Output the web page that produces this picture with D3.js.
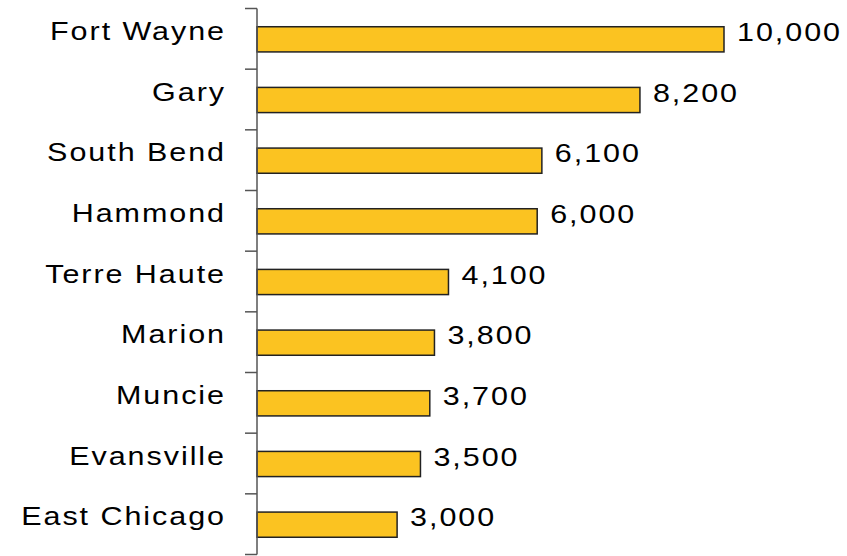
<!DOCTYPE html>
<html>
<head>
<meta charset="utf-8">
<script src="https://cdn.jsdelivr.net/npm/d3@7"></script>
<style>
  html, body { margin: 0; padding: 0; background: #fff; }
  svg { display: block; }
  text { font-family: "Liberation Sans", Arial, sans-serif; fill: #000; }
</style>
</head>
<body>
<div id="chart"></div>
<script>
const cities = ["Fort Wayne", "Gary", "South Bend", "Hammond", "Terre Haute",
                "Marion", "Muncie", "Evansville", "East Chicago"];
const values = [10000, 8200, 6100, 6000, 4100, 3800, 3700, 3500, 3000];

const width = 847;
const height = 556;
const axisX = 257;
const plotTop = 8.5;
const plotBottom = 554.5;
const stretch = 1.22;   // labels in the original look horizontally widened

const svg = d3.select("#chart").append("svg")
    .attr("width", width)
    .attr("height", height);

const x = d3.scaleLinear().domain([0, 10000]).range([axisX, axisX + 467]);

// band slots between ticks
const slot = d3.scaleBand().domain(cities).range([plotTop, plotBottom]).padding(0);
// bars inside each slot
const y = d3.scaleBand().domain(cities).range([plotTop, plotBottom])
    .paddingInner(0.585).paddingOuter(0.2925);

// bars
svg.selectAll(".bar")
    .data(cities)
    .enter().append("rect")
    .attr("class", "bar")
    .attr("x", x(0))
    .attr("y", d => y(d) + 0.5)
    .attr("width", (d, i) => x(values[i]) - x(0))
    .attr("height", y.bandwidth())
    .attr("fill", "#fbc321")
    .attr("stroke", "#222")
    .attr("stroke-width", 1.5);

// axis line and ticks at slot boundaries
const tickPos = cities.map(d => slot(d)).concat([plotBottom]);
svg.append("line")
    .attr("x1", axisX).attr("x2", axisX)
    .attr("y1", plotTop).attr("y2", plotBottom)
    .attr("stroke", "#555")
    .attr("stroke-width", 1.5);
svg.selectAll(".tick")
    .data(tickPos)
    .enter().append("line")
    .attr("class", "tick")
    .attr("x1", axisX - 12).attr("x2", axisX)
    .attr("y1", d => d).attr("y2", d => d)
    .attr("stroke", "#555")
    .attr("stroke-width", 1.5);

// category labels
svg.selectAll(".cat")
    .data(cities)
    .enter().append("text")
    .attr("class", "cat")
    .attr("transform", d => "translate(226," + (slot(d) + slot.bandwidth() / 2 + 1) + ") scale(" + stretch + ",1)")
    .attr("text-anchor", "end")
    .style("font-size", "25px")
    .style("letter-spacing", "1.6px")
    .text(d => d);

// value labels
const fmt = d3.format(",");
svg.selectAll(".val")
    .data(cities)
    .enter().append("text")
    .attr("class", "val")
    .attr("transform", (d, i) => "translate(" + (x(values[i]) + 13) + "," + (slot(d) + slot.bandwidth() / 2 + 2) + ") scale(" + stretch + ",1)")
    .style("font-size", "25px")
    .style("letter-spacing", "1.6px")
    .text((d, i) => fmt(values[i]));
</script>
</body>
</html>
